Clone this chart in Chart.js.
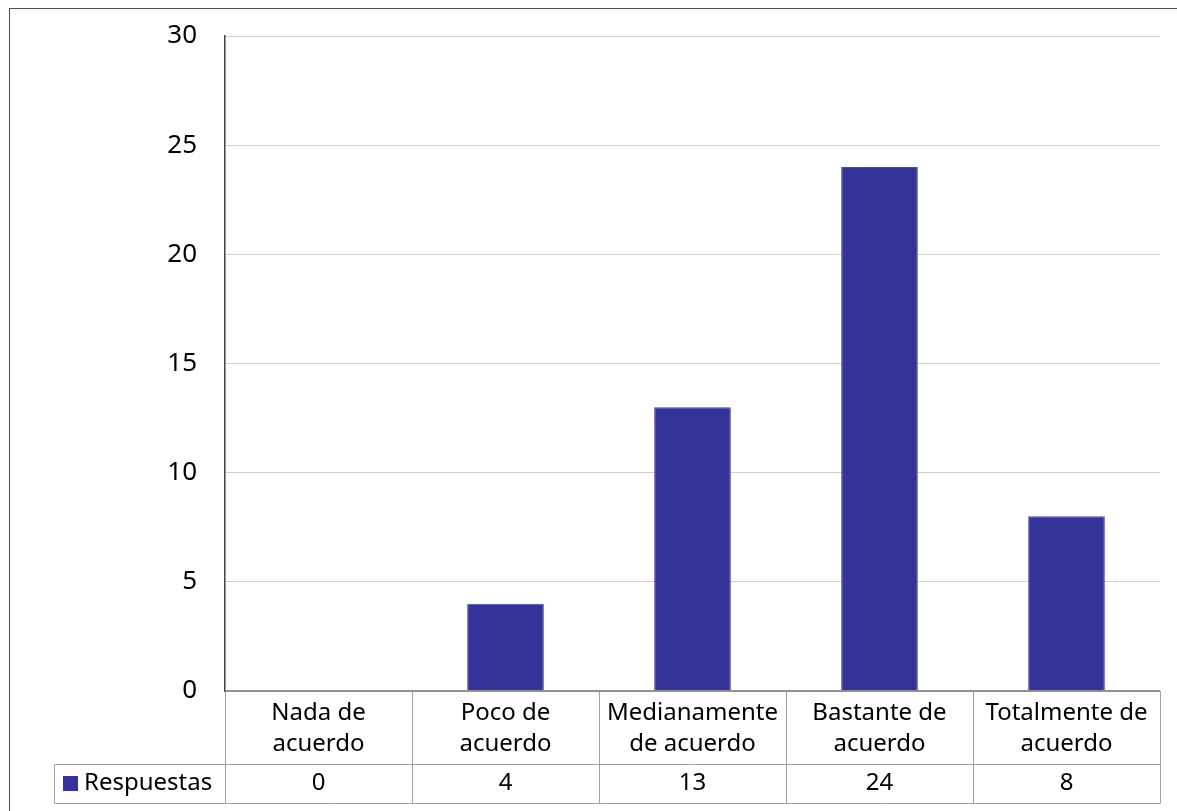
<!DOCTYPE html>
<html>
<head>
<meta charset="utf-8">
<script src="https://cdn.jsdelivr.net/npm/chart.js@4"></script>
<style>
    html, body { margin: 0; padding: 0; background: #fff; }
    #wrap { position: relative; width: 1177px; height: 811px; }
    #frame { position: absolute; left: 9px; top: 8px; width: 1180px; height: 820px; border: 1.5px solid #505050; box-sizing: border-box; pointer-events: none; }
    canvas { position: absolute; left: 0; top: 0; }
</style>
</head>
<body>
<div id="wrap">
    <canvas id="chart" width="1177" height="811"></canvas>
    <div id="frame"></div>
</div>
<script>
// chart data
const categories = [
    ['Nada de', 'acuerdo'],
    ['Poco de', 'acuerdo'],
    ['Medianamente', 'de acuerdo'],
    ['Bastante de', 'acuerdo'],
    ['Totalmente de', 'acuerdo']
];
const seriesName = 'Respuestas';
const respuestas = [0, 4, 13, 24, 8];
const yTicks = [0, 5, 10, 15, 20, 25, 30];

const barColor = '#333399';
const fontFamily = '"Noto Sans", "DejaVu Sans", sans-serif';

// draws the data table under the plot (like an Excel data table)
const dataTablePlugin = {
    id: 'dataTable',
    afterDraw(chart) {
        const ctx = chart.ctx;
        const x = chart.scales.x;
        const area = chart.chartArea;
        const top = area.bottom;
        const mid = 764.5;
        const bottom = 803.5;
        const legendLeft = 54.5;
        const n = categories.length;
        const step = (area.right - area.left) / n;

        ctx.save();
        ctx.strokeStyle = '#a0a0a0';
        ctx.lineWidth = 1;
        ctx.beginPath();
        // horizontal lines
        ctx.moveTo(area.left, mid); ctx.lineTo(area.right, mid);
        ctx.moveTo(legendLeft, mid); ctx.lineTo(area.left, mid);
        ctx.moveTo(legendLeft, bottom); ctx.lineTo(area.right, bottom);
        // vertical lines
        ctx.moveTo(legendLeft, mid); ctx.lineTo(legendLeft, bottom);
        for (let i = 0; i <= n; i++) {
            const vx = Math.round(area.left + i * step) + 0.5;
            ctx.moveTo(vx, top); ctx.lineTo(vx, bottom);
        }
        ctx.stroke();

        ctx.fillStyle = '#000';
        ctx.font = '24px ' + fontFamily;
        ctx.textAlign = 'center';
        ctx.textBaseline = 'middle';
        categories.forEach((lines, i) => {
            const cx = x.getPixelForValue(i);
            ctx.fillText(lines[0], cx, 713);
            ctx.fillText(lines[1], cx, 744);
            ctx.fillText(String(respuestas[i]), cx, 783);
        });

        // legend key + series name
        ctx.fillStyle = barColor;
        ctx.fillRect(63, 776, 15, 15);
        ctx.fillStyle = '#000';
        ctx.textAlign = 'left';
        ctx.fillText(seriesName, 84, 783);
        ctx.restore();
    }
};

new Chart(document.getElementById('chart'), {
    type: 'bar',
    data: {
        labels: categories,
        datasets: [{
            label: seriesName,
            data: respuestas,
            backgroundColor: barColor,
            borderColor: '#4a4aa8',
            borderWidth: 1,
            barPercentage: 0.41,
            categoryPercentage: 1
        }]
    },
    options: {
        responsive: false,
        animation: false,
        layout: { padding: { left: 0, top: 36, right: 17, bottom: 120 } },
        plugins: {
            legend: { display: false },
            tooltip: { enabled: false }
        },
        scales: {
            x: {
                display: false
            },
            y: {
                min: 0,
                max: 30,
                afterFit(scale) {
                    scale.width = 225;
                    scale.paddingTop = 0;
                    scale.paddingBottom = 0;
                },
                afterBuildTicks(scale) { scale.ticks = yTicks.map(v => ({ value: v })); },
                border: { display: true, color: '#404040', width: 1.5 },
                grid: {
                    color: (c) => c.tick && c.tick.value === 0 ? '#909090' : '#d0d0d0',
                    lineWidth: (c) => c.tick && c.tick.value === 0 ? 2 : 1,
                    drawTicks: false
                },
                ticks: {
                    padding: 28,
                    color: '#000',
                    font: { family: fontFamily, size: 26 }
                }
            }
        }
    },
    plugins: [dataTablePlugin]
});
</script>
</body>
</html>
